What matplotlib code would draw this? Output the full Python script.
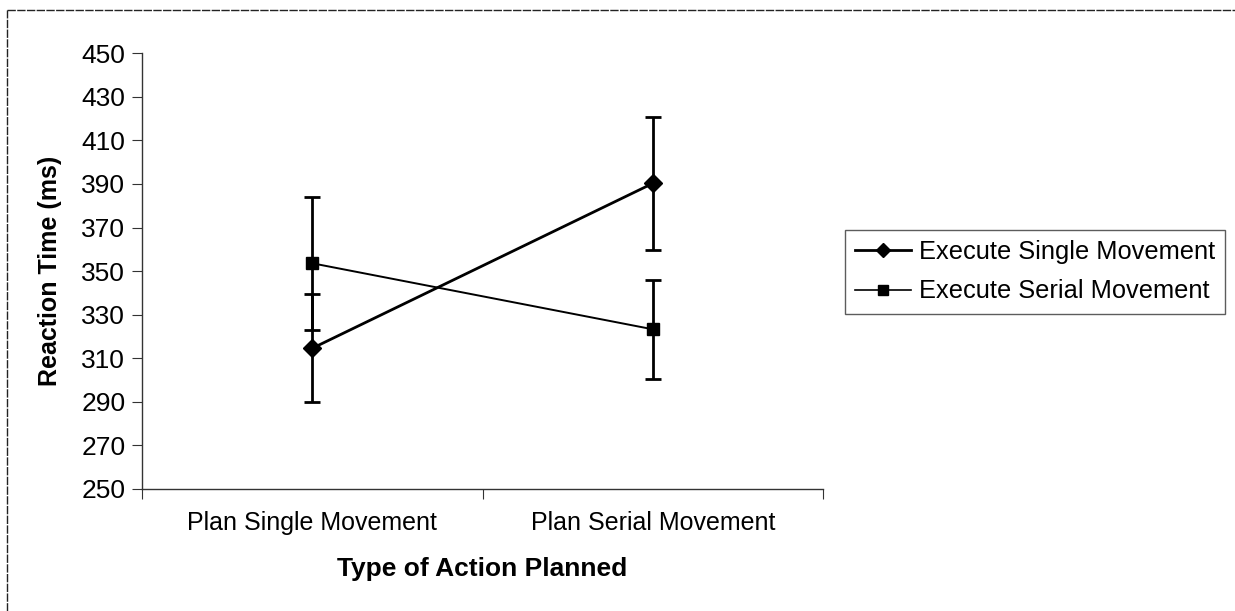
import matplotlib.pyplot as plt
from matplotlib.lines import Line2D

plt.rcParams['font.family'] = ['Liberation Sans', 'DejaVu Sans']

categorias = ["Plan Single Movement", "Plan Serial Movement"]
single_mov = [314.6, 390.3]
single_err = [24.8, 30.4]
serial_mov = [353.6, 323.3]
serial_err = [30.6, 22.6]
yticks = list(range(250, 451, 20))

fig = plt.figure(figsize=(12.35, 6.11), dpi=100)
ax = fig.add_axes([0.115, 0.1997, 0.5515, 0.7131])

x = list(range(len(categorias)))
ax.errorbar(x, single_mov, yerr=single_err, color='black', linewidth=2.0,
            marker='D', markersize=9, capsize=5.8, capthick=2.0, elinewidth=2.0,
            label='Execute Single Movement')
ax.errorbar(x, serial_mov, yerr=serial_err, color='black', linewidth=1.4,
            marker='s', markersize=8.5, capsize=5.8, capthick=2.0, elinewidth=2.0,
            label='Execute Serial Movement')

ax.set_xlim(-0.5, 1.5)
ax.set_ylim(250, 450)
ax.set_yticks(yticks)
ax.set_xticks([-0.5, 0.5, 1.5])
ax.set_xticklabels([])
ax.set_xticks(x, minor=True)
ax.set_xticklabels(categorias, minor=True, fontsize=18)
ax.tick_params(axis='x', which='minor', length=0, pad=16)
ax.tick_params(axis='x', which='major', length=7, direction='out', color='#333333')
ax.tick_params(axis='y', length=7, direction='out', labelsize=19, pad=5, color='#333333')

for s in ['top', 'right']:
    ax.spines[s].set_visible(False)
for s in ['left', 'bottom']:
    ax.spines[s].set_color('#333333')
    ax.spines[s].set_linewidth(1.0)

ax.set_ylabel('Reaction Time (ms)', fontsize=18, fontweight='bold', labelpad=14)
ax.set_xlabel('Type of Action Planned', fontsize=19, fontweight='bold', labelpad=16)

handles = [
    Line2D([], [], color='black', linewidth=2.0, marker='D', markersize=7),
    Line2D([], [], color='black', linewidth=1.2, marker='s', markersize=7),
]
leg = fig.legend(handles, ['Execute Single Movement', 'Execute Serial Movement'],
                 loc='upper left', bbox_to_anchor=(845 / 1235, 1 - 230 / 611),
                 fontsize=18.3, frameon=True, fancybox=False, edgecolor='#333333',
                 handlelength=2.2, handletextpad=0.3, borderpad=0.4,
                 labelspacing=0.6, borderaxespad=0)
leg.get_frame().set_linewidth(1.0)

# marco exterior (solo arriba e izquierda visibles)
fig.add_artist(Line2D([7 / 1235, 1.0], [1 - 10 / 611, 1 - 10 / 611],
                      transform=fig.transFigure, color='#222222', linewidth=1.0,
                      linestyle=(0, (6, 1))))
fig.add_artist(Line2D([7 / 1235, 7 / 1235], [0, 1 - 10 / 611],
                      transform=fig.transFigure, color='#222222', linewidth=1.0,
                      linestyle=(0, (6, 1))))

fig.savefig('out.png', dpi=100)
